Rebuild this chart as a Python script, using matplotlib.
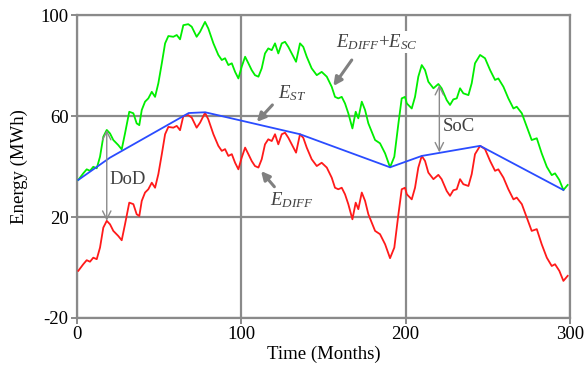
import matplotlib
matplotlib.use("Agg")
import matplotlib.pyplot as plt

plt.rcParams['font.family'] = ['Liberation Serif', 'DejaVu Serif']
plt.rcParams['mathtext.fontset'] = 'custom'
plt.rcParams['mathtext.rm'] = 'Liberation Serif'
plt.rcParams['mathtext.it'] = 'Liberation Serif:italic'
plt.rcParams['axes.unicode_minus'] = False

# monthly samples of the energy difference curve (MWh)
months = [0.8, 3.8, 5.9, 7.9, 9.9, 12.0, 14.0, 16.0, 18.1, 20.1, 22.1, 25.1, 27.2, 29.2,
          31.8, 34.3, 36.3, 37.9, 39.4, 41.4, 43.4, 45.5, 47.5, 49.5, 51.6, 53.6, 55.6,
          58.6, 60.7, 62.7, 64.7, 67.7, 69.8, 72.8, 74.9, 77.9, 79.9, 83.0, 86.0, 88.1,
          90.1, 92.1, 94.2, 96.2, 98.2, 100.2, 102.3, 104.3, 106.3, 108.3, 110.4, 112.4,
          114.4, 116.4, 118.5, 120.5, 122.5, 124.6, 126.6, 128.6, 130.7, 133.3, 135.7,
          137.7, 139.8, 142.8, 145.9, 148.9, 152.0, 155.0, 157.0, 159.0, 161.1, 163.1,
          165.1, 167.6, 169.6, 171.2, 173.3, 175.3, 177.3, 181.4, 184.4, 187.5, 190.5,
          193.1, 195.6, 197.6, 199.6, 200.7, 203.7, 205.7, 207.7, 209.8, 211.8, 213.8,
          216.9, 219.9, 221.9, 225.0, 227.0, 229.0, 231.1, 233.1, 235.1, 238.2, 240.2,
          242.2, 245.3, 248.3, 251.4, 254.4, 256.4, 259.5, 262.5, 265.6, 267.6, 270.7,
          273.7, 276.7, 279.8, 282.8, 285.9, 288.9, 290.9, 293.5, 296.0, 298.6]
e_diff = [-1.3, 1.3, 2.9, 2.3, 3.9, 3.3, 7.9, 15.8, 18.5, 17.1, 14.5, 12.5, 10.8, 17.1,
          25.7, 25.1, 21.1, 20.4, 26.4, 29.7, 31.0, 33.6, 31.6, 37.0, 44.9, 52.8, 55.7,
          55.4, 56.1, 54.4, 60.0, 60.4, 59.4, 55.4, 57.4, 61.3, 58.7, 52.8, 48.2, 46.2,
          46.9, 44.2, 44.9, 41.5, 38.9, 43.5, 47.5, 44.9, 42.2, 40.2, 39.6, 42.9,
          48.8, 50.8, 50.1, 52.8, 48.8, 52.8, 53.4, 51.4, 48.8, 45.5, 52.8,
          51.4, 47.5, 42.9, 40.2, 41.5, 39.6, 35.6, 31.6, 31.0, 31.6, 29.0,
          25.1, 19.1, 25.7, 23.1, 29.7, 26.4, 21.1, 14.5, 13.2, 9.2, 3.7,
          7.9, 21.1, 31.0, 31.6, 29.0, 27.0, 31.6, 39.6, 44.2, 42.2, 37.6,
          35.0, 36.7, 35.0, 30.3, 28.4, 30.6, 31.0, 35.0, 33.0, 32.3, 37.0,
          44.9, 48.2, 46.9, 42.2, 38.3, 38.9, 35.6, 31.0, 27.0, 27.7, 25.1,
          19.8, 14.5, 15.2, 9.2, 3.9, 0.6, 1.3, -1.3, -5.3, -3.3]
e_sc = 36.0
e_diff_sc = [v + e_sc for v in e_diff]

# storage energy envelope
st_months = [0.8, 20.0, 68.0, 78.0, 135.7, 190.5, 209.8, 245.3, 296.0]
e_st = [34.7, 43.5, 61.2, 61.5, 52.8, 39.7, 44.2, 48.2, 30.7]

grid_c = '#8a8a8a'
txt_c = '#404040'
fs = 13.5

fig = plt.figure(figsize=(5.87, 3.77), dpi=100)
ax = fig.add_axes([0.1312, 0.1565, 0.8398, 0.8035])

ax.plot(months, e_diff_sc, color='#00ee00', lw=1.3, zorder=3)
ax.plot(months, e_diff, color='#ff1a1a', lw=1.3, zorder=3)
ax.plot(st_months, e_st, color='#2a4cff', lw=1.3, zorder=4)

ax.set_xlim(0, 300)
ax.set_ylim(-20, 100)
ax.set_xticks([0, 100, 200, 300])
ax.set_yticks([-20, 20, 60, 100])
ax.grid(True, color=grid_c, lw=1.6)
ax.set_axisbelow(True)
for s in ax.spines.values():
    s.set_color(grid_c)
    s.set_linewidth(1.6)
ax.tick_params(direction='inout', length=8, width=1.4, color=grid_c, labelsize=fs, pad=2)
ax.set_xlabel('Time (Months)', fontsize=fs, labelpad=2)
ax.set_ylabel('Energy (MWh)', fontsize=fs, labelpad=9)

# depth of discharge and state of charge markers
ax.annotate('', xy=(18.1, 18.5), xytext=(18.1, 54.5),
            arrowprops=dict(arrowstyle='<->,head_length=0.6,head_width=0.3', color='#8a8a8a', lw=1.0,
                            shrinkA=0, shrinkB=0), zorder=5)
ax.text(19.7, 35.0, 'DoD', fontsize=fs, color=txt_c, va='center', ha='left', zorder=6)
ax.annotate('', xy=(220.5, 45.6), xytext=(220.5, 72.3),
            arrowprops=dict(arrowstyle='<->,head_length=0.6,head_width=0.3', color='#8a8a8a', lw=1.0,
                            shrinkA=0, shrinkB=0), zorder=5)
ax.text(222.5, 55.8, 'SoC', fontsize=fs, color=txt_c, va='center', ha='left', zorder=6)

arrow = dict(arrowstyle='-|>,head_length=0.5,head_width=0.25', color='#808080', lw=2.2,
             shrinkA=0, shrinkB=0)
ax.annotate('', xy=(109.4, 57.7), xytext=(118.9, 64.4), arrowprops=arrow, zorder=5)
ax.text(122.5, 69.0, r'$E_{ST}$', fontsize=fs, color=txt_c, va='center', ha='left', zorder=6)
ax.annotate('', xy=(112.0, 38.2), xytext=(120.1, 32.0), arrowprops=arrow, zorder=5)
ax.text(117.5, 26.7, r'$E_{DIFF}$', fontsize=fs, color=txt_c, va='center', ha='left', zorder=6)
ax.annotate('', xy=(156.0, 71.9), xytext=(167.2, 82.2), arrowprops=arrow, zorder=5)
ax.text(157.6, 89.4, r'$E_{DIFF}$+$E_{SC}$', fontsize=fs, color=txt_c, va='center', ha='left',
        zorder=6, bbox=dict(facecolor='white', edgecolor='none', pad=1))

fig.savefig('out.png', dpi=100)
